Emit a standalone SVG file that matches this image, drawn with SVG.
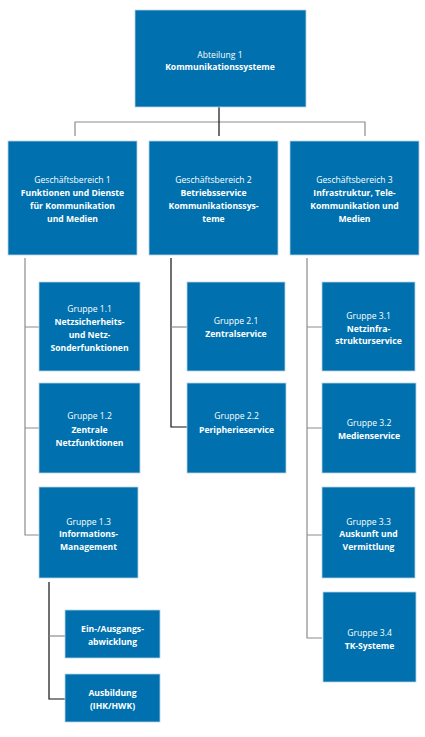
<svg xmlns="http://www.w3.org/2000/svg" width="425" height="737" viewBox="0 0 425 737">
<style>
.box{fill:#0071ae;stroke:#b8d2e6;stroke-width:0.8}
text{font-family:"Open Sans","Noto Sans",sans-serif;font-size:8.6px;fill:#fff;text-anchor:middle}
.b{font-weight:bold}
.g{stroke:#8c8c8c;stroke-width:1.2;fill:none}
.k{stroke:#111;stroke-width:1.2;fill:none}
</style>
<rect width="425" height="737" fill="#fff"/>
<g id="connectors">
<path class="g" d="M75,136V122H365V136"/>
<path class="k" d="M219,107V136"/>
<path class="g" d="M25,258V535H39M25,327H39M25,428H39"/>
<path class="k" d="M171,258V427H187"/>
<path class="g" d="M171,327H187"/>
<path class="g" d="M307,258V638H322M307,327H322M307,428H322M307,535H322"/>
<path class="k" d="M49,582V699H65"/>
<path class="g" d="M49,636H65"/>
</g>
<g id="n0"><rect class="box" x="135" y="10" width="171" height="97"/><text x="220" y="58">Abteilung 1</text><text class="b" x="220" y="70">Kommunikationssysteme</text></g>
<g id="n1"><rect class="box" x="8" y="141" width="129" height="114"/><text x="72.5" y="183">Geschäftsbereich 1</text><text class="b" x="72.5" y="196">Funktionen und Dienste</text><text class="b" x="72.5" y="209">für Kommunikation</text><text class="b" x="72.5" y="222">und Medien</text></g>
<g id="n2"><rect class="box" x="149" y="141" width="129" height="114"/><text x="213.5" y="183">Geschäftsbereich 2</text><text class="b" x="213.5" y="196">Betriebsservice</text><text class="b" x="213.5" y="209">Kommunikationssys-</text><text class="b" x="213.5" y="222">teme</text></g>
<g id="n3"><rect class="box" x="290" y="141" width="129" height="114"/><text x="354.5" y="183">Geschäftsbereich 3</text><text class="b" x="354.5" y="196">Infrastruktur, Tele-</text><text class="b" x="354.5" y="209">Kommunikation und</text><text class="b" x="354.5" y="222">Medien</text></g>
<g id="n11"><rect class="box" x="39" y="282" width="101" height="89"/><text x="89.5" y="312">Gruppe 1.1</text><text class="b" x="89.5" y="325">Netzsicherheits-</text><text class="b" x="89.5" y="338">und Netz-</text><text class="b" x="89.5" y="351">Sonderfunktionen</text></g>
<g id="n12"><rect class="box" x="39" y="383" width="101" height="90"/><text x="89.5" y="419">Gruppe 1.2</text><text class="b" x="89.5" y="433">Zentrale</text><text class="b" x="89.5" y="446">Netzfunktionen</text></g>
<g id="n13"><rect class="box" x="39" y="487" width="99" height="91"/><text x="88.5" y="525">Gruppe 1.3</text><text class="b" x="88.5" y="537">Informations-</text><text class="b" x="88.5" y="550">Management</text></g>
<g id="n131"><rect class="box" x="65" y="610" width="95" height="48"/><text class="b" x="112.5" y="632">Ein-/Ausgangs-</text><text class="b" x="112.5" y="645">abwicklung</text></g>
<g id="n132"><rect class="box" x="65" y="674" width="95" height="48"/><text class="b" x="112.5" y="696">Ausbildung</text><text class="b" x="112.5" y="709">(IHK/HWK)</text></g>
<g id="n21"><rect class="box" x="187" y="282" width="98" height="89"/><text x="236" y="324">Gruppe 2.1</text><text class="b" x="236" y="337">Zentralservice</text></g>
<g id="n22"><rect class="box" x="187" y="383" width="99" height="90"/><text x="236.5" y="419">Gruppe 2.2</text><text class="b" x="236.5" y="433">Peripherieservice</text></g>
<g id="n31"><rect class="box" x="322" y="282" width="93" height="89"/><text x="368.5" y="319">Gruppe 3.1</text><text class="b" x="368.5" y="332">Netzinfra-</text><text class="b" x="368.5" y="344">strukturservice</text></g>
<g id="n32"><rect class="box" x="322" y="383" width="94" height="90"/><text x="369" y="426">Gruppe 3.2</text><text class="b" x="369" y="439">Medienservice</text></g>
<g id="n33"><rect class="box" x="322" y="487" width="93" height="91"/><text x="368.5" y="525">Gruppe 3.3</text><text class="b" x="368.5" y="537">Auskunft und</text><text class="b" x="368.5" y="550">Vermittlung</text></g>
<g id="n34"><rect class="box" x="323" y="592" width="93" height="90"/><text x="369.5" y="636">Gruppe 3.4</text><text class="b" x="369.5" y="649">TK-Systeme</text></g>
</svg>
